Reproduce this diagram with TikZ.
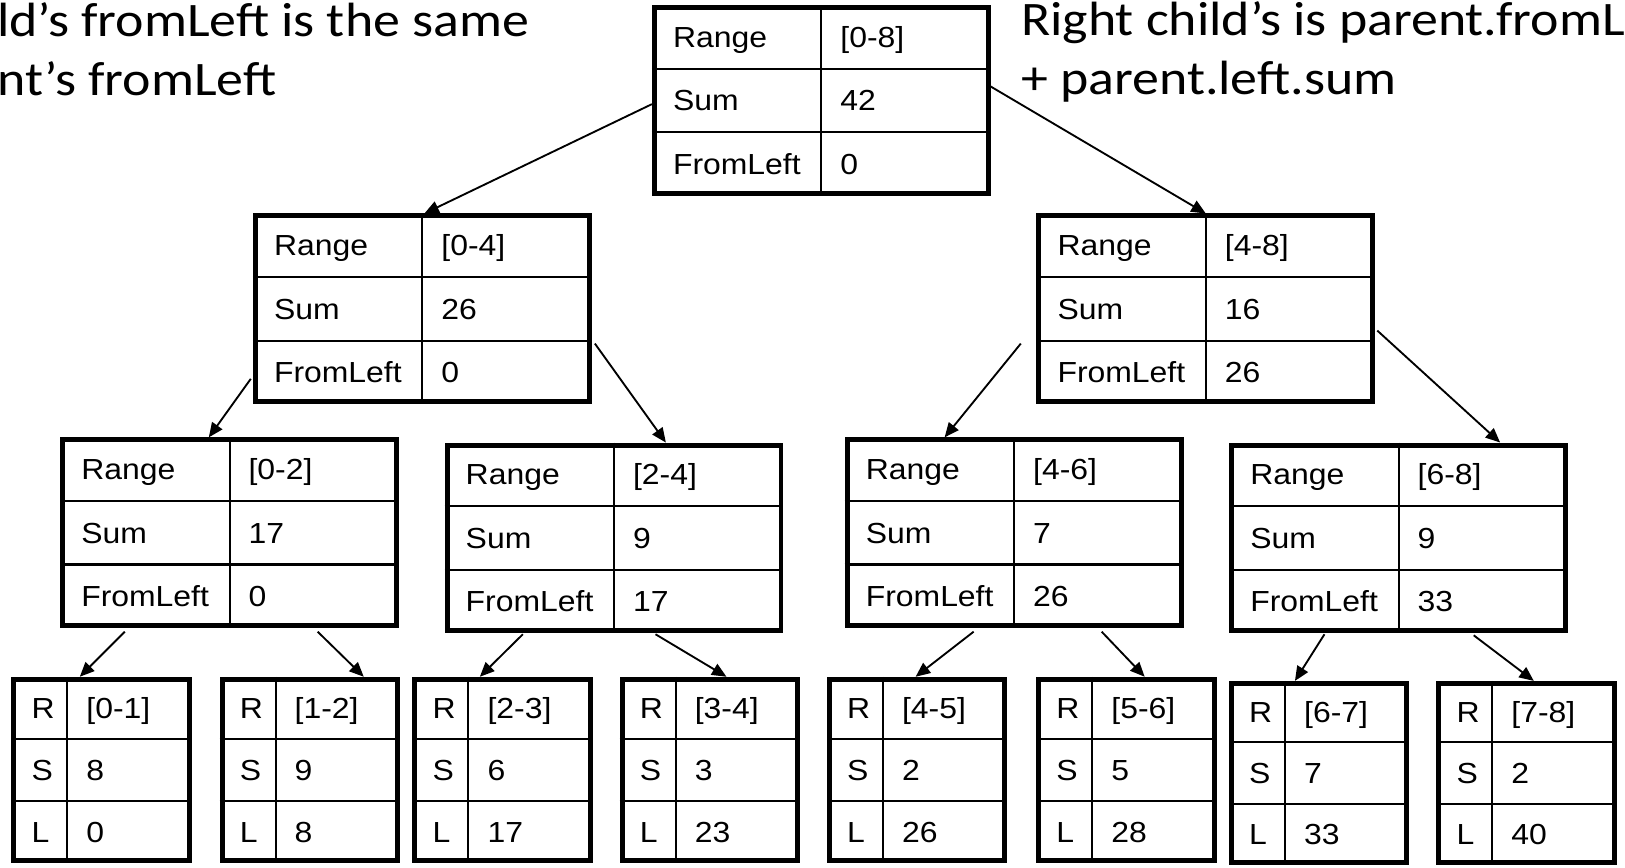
\documentclass[tikz,border=0pt]{standalone}
\usepackage{fontspec}
\setmainfont{Liberation Sans}[FakeStretch=1.1]
\newfontfamily\calib{Carlito}[FakeStretch=1.12]
\usetikzlibrary{calc,arrows.meta}

\tikzset{
  tbox/.style={draw, line width=2.4pt, rectangle, inner sep=0pt},
  cellline/.style={line width=1pt},
  cell/.style={anchor=base west, inner sep=0pt, font=\fontsize{14pt}{16pt}\selectfont},
  link/.style={line width=0.9pt, -{Triangle[length=7pt,width=6pt]}},
  note/.style={anchor=base west, inner sep=0pt, font=\calib\fontsize{23.2pt}{28pt}\selectfont},
}

% inner node of the tree: name, left, top, range, sum, fromLeft
\newcommand{\bigtable}[6]{%
  \node[tbox, minimum width={(327-4.8)*0.5pt}, minimum height={(184-4.8)*0.5pt}] (#1) at ({#2+163.5},{#3+92}) {};
  \draw[cellline] (#1.north) -- (#1.south);
  \draw[cellline] ($(#1.north west)!1/3!(#1.south west)$) -- ($(#1.north east)!1/3!(#1.south east)$);
  \draw[cellline] ($(#1.north west)!2/3!(#1.south west)$) -- ($(#1.north east)!2/3!(#1.south east)$);
  \node[cell] (#1-k1) at ({#2+20},{#3+40.7}) {Range};
  \node[cell] (#1-k2) at ({#2+20},{#3+102}) {Sum};
  \node[cell] (#1-k3) at ({#2+20},{#3+163.3}) {FromLeft};
  \node[cell] (#1-v1) at ({#2+181.5},{#3+40.7}) {#4};
  \node[cell] (#1-v2) at ({#2+181.5},{#3+102}) {#5};
  \node[cell] (#1-v3) at ({#2+181.5},{#3+163.3}) {#6};
}

% leaf of the tree: name, left, top, height, range, sum, fromLeft
\newcommand{\leaftable}[7]{%
  \node[tbox, minimum width={(174-4.8)*0.5pt}, minimum height={(#4-4.8)*0.5pt}] (#1) at ({#2+87},{#3+#4/2}) {};
  \draw[cellline] ($(#1.north west)+(54,0)$) -- ($(#1.south west)+(54,0)$);
  \draw[cellline] ($(#1.north west)!1/3!(#1.south west)$) -- ($(#1.north east)!1/3!(#1.south east)$);
  \draw[cellline] ($(#1.north west)!2/3!(#1.south west)$) -- ($(#1.north east)!2/3!(#1.south east)$);
  \node[cell] (#1-k1) at ({#2+19},{#3+#4/6+10}) {R};
  \node[cell] (#1-k2) at ({#2+19},{#3+#4/2+10}) {S};
  \node[cell] (#1-k3) at ({#2+19},{#3+5*#4/6+10}) {L};
  \node[cell] (#1-v1) at ({#2+72},{#3+#4/6+10}) {#5};
  \node[cell] (#1-v2) at ({#2+72},{#3+#4/2+10}) {#6};
  \node[cell] (#1-v3) at ({#2+72},{#3+5*#4/6+10}) {#7};
}

\begin{document}
\begin{tikzpicture}[x=0.5pt,y=-0.5pt]
\useasboundingbox (0,0) rectangle (1568,837);

% explanatory notes
\node[note] (noteL1) at (-3,35) {ld’s fromLeft is the same};
\node[note] (noteL2) at (-3,92) {nt’s fromLeft};
\node[note] (noteR1) at (985,34) {Right child’s is parent.fromL};
\node[note] (noteR2) at (985,91) {+ parent.left.sum};

% tree levels
\bigtable{root}{629}{5}{[0-8]}{42}{0}
\bigtable{n04}{244}{206}{[0-4]}{26}{0}
\bigtable{n48}{1000}{206}{[4-8]}{16}{26}
\bigtable{n02}{58}{422}{[0-2]}{17}{0}
\bigtable{n24}{429}{427}{[2-4]}{9}{17}
\bigtable{n46}{815}{422}{[4-6]}{7}{26}
\bigtable{n68}{1186}{427}{[6-8]}{9}{33}

\leaftable{n01}{11}{653}{180}{[0-1]}{8}{0}
\leaftable{n12}{212}{653}{180}{[1-2]}{9}{8}
\leaftable{n23}{398}{653}{180}{[2-3]}{6}{17}
\leaftable{n34}{598}{653}{180}{[3-4]}{3}{23}
\leaftable{n45}{798}{653}{180}{[4-5]}{2}{26}
\leaftable{n56}{1000}{653}{180}{[5-6]}{5}{28}
\leaftable{n67}{1186}{657}{178}{[6-7]}{7}{33}
\leaftable{n78}{1386}{657}{178}{[7-8]}{2}{40}

% parent-to-child links
\draw[link] ($(root.west)+(0,3.5)$) -- ($(n04.north)+(2,0)$);
\draw[link] ($(root.east)+(0,-13.5)$) -- ($(n48.north)+(0,0)$);
\draw[link] ($(n04.west)+(-2,67.5)$) -- ($(n02.north)+(-20,0)$);
\draw[link] ($(n04.east)+(3,33.5)$) -- ($(n24.north)+(50,0)$);
\draw[link] ($(n48.west)+(-15,33.5)$) -- ($(n46.north)+(-67,0)$);
\draw[link] ($(n48.east)+(2,21)$) -- ($(n68.north)+(98,0)$);
\draw[link] ($(n02.south)+(-101,3.5)$) -- ($(n01.north)+(-21,0)$);
\draw[link] ($(n02.south)+(85,3.5)$) -- ($(n12.north)+(52,0)$);
\draw[link] ($(n24.south)+(-88,1)$) -- ($(n23.north)+(-22,0)$);
\draw[link] ($(n24.south)+(40,1)$) -- ($(n34.north)+(16,0)$);
\draw[link] ($(n46.south)+(-39,3.5)$) -- ($(n45.north)+(-1.5,0)$);
\draw[link] ($(n46.south)+(84.5,3.5)$) -- ($(n56.north)+(17.5,0)$);
\draw[link] ($(n68.south)+(-71.5,1)$) -- ($(n67.north)+(-23.5,0)$);
\draw[link] ($(n68.south)+(72.5,2)$) -- ($(n78.north)+(7,0)$);
\end{tikzpicture}
\end{document}
